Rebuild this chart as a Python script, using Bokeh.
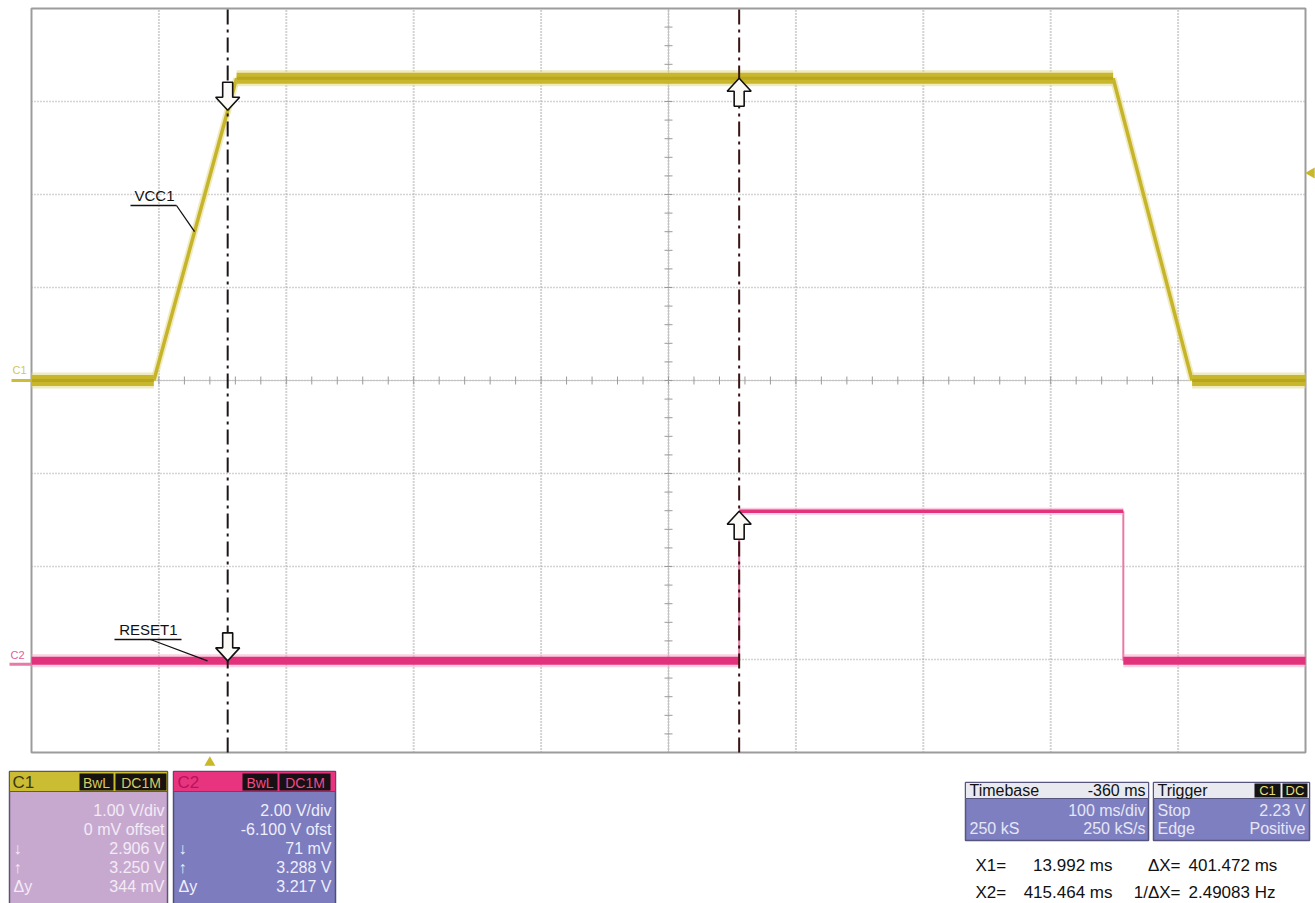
import math
import numpy as np
from bokeh.plotting import figure
from bokeh.models import Range1d
from bokeh.layouts import column
from bokeh.embed import file_html
from bokeh.resources import INLINE
from bokeh.core.properties import value

# ---------------- values ----------------
vcc1_t = [-140.0, -44.0, 21.0, 709.0, 771.0, 860.0]          # ms
vcc1_v = [0.0, 0.0, 3.25, 3.25, 0.0, 0.0]                     # V (C1)
reset1_t = [-140.0, 415.464, 415.464, 717.0, 717.0, 860.0]    # ms
reset1_v = [0.071, 0.071, 3.288, 3.288, 0.071, 0.071]         # V (C2)
cursor_t = [13.992, 415.464]
c1_cursor_v = [2.906, 3.250]
c2_cursor_v = [0.071, 3.288]
trigger_t = [0.0]
trigger_level = [2.23]
c1_setup = [1.00, 0.0]        # V/div, offset
c2_setup = [2.00, -6.100]
timebase = [-360.0, 100.0]    # delay ms, ms/div
sample_info = ["250 kS", "250 kS/s"]
trigger_info = ["Stop", "Edge", "Positive"]

FONT = value("Liberation Sans")

# ---------------- geometry (page pixels) ----------------
M = 0
FIG_W = 1315
TOP_H = 766
BOT_H = 137
SC_L, SC_R, SC_T, SC_B = 31.0, 1305.0, 8.0, 752.0
N_XDIV, N_YDIV = 10, 8

t_center = -timebase[0]
t_left = t_center - N_XDIV / 2 * timebase[1]
t_right = t_center + N_XDIV / 2 * timebase[1]
MS_PX = (t_right - t_left) / (SC_R - SC_L)


def vrange(setup):
    vdiv, ofst = setup
    return (-N_YDIV / 2 * vdiv - ofst, N_YDIV / 2 * vdiv - ofst)


c1_lo, c1_hi = vrange(c1_setup)
c2_lo, c2_hi = vrange(c2_setup)
V1_PX = (c1_hi - c1_lo) / (SC_B - SC_T)
V2_PX = (c2_hi - c2_lo) / (SC_B - SC_T)


def T(px):
    return t_left + (px - SC_L) * MS_PX


def V1(py):
    return c1_hi - (py - SC_T) * V1_PX


def V2(py):
    return c2_hi - (py - SC_T) * V2_PX


p = figure(width=FIG_W, height=TOP_H,
           x_range=Range1d(T(M), T(M + FIG_W)),
           y_range=Range1d(V1(M + TOP_H), V1(M)),
           x_axis_type=None, y_axis_type=None,
           toolbar_location=None, output_backend="svg", min_border=0)
p.extra_y_ranges = {"c2": Range1d(V2(M + TOP_H), V2(M))}
p.title.visible = False
p.outline_line_color = None
p.background_fill_color = "white"
p.border_fill_color = "white"

# ---------------- graticule ----------------
gx = [t_left + k * timebase[1] for k in range(1, N_XDIV)]
p.segment(gx, [c1_lo] * len(gx), gx, [c1_hi] * len(gx),
          line_color="#a8a8a8", line_width=2, line_dash="1 2")
gy = [c1_lo + k * c1_setup[0] for k in range(1, N_YDIV)]
p.segment([t_left] * len(gy), gy, [t_right] * len(gy), gy,
          line_color="#a8a8a8", line_width=1.5, line_dash="1 2")
yc = (c1_lo + c1_hi) / 2
p.segment([t_left], [yc], [t_right], [yc], line_color="#c4c4c4", line_width=1)
p.segment([t_center], [c1_lo], [t_center], [c1_hi], line_color="#c4c4c4", line_width=1)
tk = [t_left + k * timebase[1] / 5 for k in range(1, N_XDIV * 5)]
hv = 4 * V1_PX
p.segment(tk, [yc - hv] * len(tk), tk, [yc + hv] * len(tk), line_color="#9a9a9a", line_width=1)
vk = [c1_lo + k * c1_setup[0] / 5 for k in range(1, N_YDIV * 5)]
ht = 4 * MS_PX
p.segment([t_center - ht] * len(vk), vk, [t_center + ht] * len(vk), vk,
          line_color="#9a9a9a", line_width=1)
p.quad(left=[t_left], right=[t_right], bottom=[c1_lo], top=[c1_hi],
       fill_color=None, line_color="#9c9c9c", line_width=2)


# ---------------- traces ----------------
def split(t, v):
    flats, edges = [], []
    for i in range(len(t) - 1):
        seg = ([t[i], t[i + 1]], [v[i], v[i + 1]])
        (flats if v[i] == v[i + 1] else edges).append(seg)
    return flats, edges


fl, ed = split(vcc1_t, vcc1_v)
p.multi_line([s[0] for s in ed], [s[1] for s in ed], line_color="#e6de94", line_width=7, line_alpha=0.6)
p.multi_line([s[0] for s in ed], [s[1] for s in ed], line_color="#c6b42a", line_width=3.5)
p.multi_line([s[0] for s in fl], [s[1] for s in fl], line_color="#e4da8a", line_width=16,
             line_alpha=0.55, line_cap="butt")
p.multi_line([s[0] for s in fl], [s[1] for s in fl], line_color="#c8b72c", line_width=11, line_cap="butt")
p.multi_line([s[0] for s in fl], [s[1] for s in fl], line_color="#b8a61c", line_width=3, line_cap="butt")

fl2, ed2 = split(reset1_t, reset1_v)
mid2 = (min(reset1_v) + max(reset1_v)) / 2
low2 = [s for s in fl2 if s[1][0] < mid2]
high2 = [s for s in fl2 if s[1][0] >= mid2]
p.multi_line([s[0] for s in ed2], [s[1] for s in ed2], y_range_name="c2",
             line_color="#e77aa8", line_width=2)
p.multi_line([s[0] for s in low2], [s[1] for s in low2], y_range_name="c2",
             line_color="#f2a6c6", line_width=13, line_alpha=0.5, line_cap="butt")
p.multi_line([s[0] for s in low2], [s[1] for s in low2], y_range_name="c2",
             line_color="#e3327c", line_width=8, line_cap="butt")
p.multi_line([s[0] for s in high2], [s[1] for s in high2], y_range_name="c2",
             line_color="#f4b0cc", line_width=7, line_alpha=0.6, line_cap="butt")
p.multi_line([s[0] for s in high2], [s[1] for s in high2], y_range_name="c2",
             line_color="#e2347c", line_width=3.5, line_cap="butt")

# ---------------- cursors ----------------
p.segment(cursor_t, [c1_lo] * 2, cursor_t, [c1_hi] * 2,
          line_color=["#1c1616", "#3c1212"], line_width=2, line_dash="15 5 3 5")

ARROW = [(0, 0), (-12, 13), (-5, 13), (-5, 28), (5, 28), (5, 13), (12, 13)]


def arrow(x, y, down, ypx):
    sgn = 1 if down else -1
    return ([x + dx * MS_PX for dx, dy in ARROW], [y + sgn * dy * ypx for dx, dy in ARROW])


a1 = [arrow(cursor_t[0], c1_cursor_v[0], True, V1_PX), arrow(cursor_t[1], c1_cursor_v[1], False, V1_PX)]
a2 = [arrow(cursor_t[0], c2_cursor_v[0], True, V2_PX), arrow(cursor_t[1], c2_cursor_v[1], False, V2_PX)]
p.patches([a[0] for a in a1], [a[1] for a in a1], fill_color="#fbfaf6", line_color="#111111", line_width=1.6)
p.patches([a[0] for a in a2], [a[1] for a in a2], y_range_name="c2",
          fill_color="#fbfaf6", line_color="#111111", line_width=1.6)

# ---------------- trace labels ----------------
tip_v = 1.6
tip_t = float(np.interp(tip_v, [vcc1_v[1], vcc1_v[2]], [vcc1_t[1], vcc1_t[2]]))
p.text(x=[T(174)], y=[V1(203)], text=["VCC1"], text_font=FONT, text_font_size="15px",
       text_align="right", text_baseline="bottom", text_color="#111111")
p.segment([T(130)], [V1(205)], [T(176)], [V1(205)], line_color="#111111", line_width=1.3)
p.segment([T(176)], [V1(205)], [tip_t], [tip_v], line_color="#111111", line_width=1.3)

p.text(x=[T(177)], y=[V2(637)], text=["RESET1"], text_font=FONT, text_font_size="15px",
       text_align="right", text_baseline="bottom", text_color="#111111", y_range_name="c2")
p.segment([T(114)], [V2(639)], [T(181)], [V2(639)], y_range_name="c2", line_color="#111111", line_width=1.3)
p.segment([T(150)], [V2(639)], [T(207)], [reset1_v[0]], y_range_name="c2",
          line_color="#111111", line_width=1.3)

# ---------------- channel / trigger markers ----------------
p.text(x=[T(12)], y=[V1(369)], text=["C1"], text_font=FONT, text_font_size="11px",
       text_align="left", text_baseline="middle", text_color="#d2c65c")
p.segment([T(11)], [vcc1_v[0]], [T(31)], [vcc1_v[0]], line_color="#cbbd3a", line_width=3)
p.text(x=[T(10)], y=[V2(654)], text=["C2"], text_font=FONT, text_font_size="11px",
       text_align="left", text_baseline="middle", text_color="#e0609a", y_range_name="c2")
p.segment([T(9)], [0.0], [T(31)], [0.0], y_range_name="c2", line_color="#e67aa8", line_width=3)
p.scatter(x=trigger_t, y=[V1(762)], marker="triangle", size=11, fill_color="#c8b82a", line_color=None)
p.scatter(x=[T(1311)], y=trigger_level, marker="triangle", angle=math.pi / 2, size=11,
          fill_color="#c8b82a", line_color=None)

# ---------------- info panels ----------------
q = figure(width=FIG_W, height=BOT_H, x_range=Range1d(M, M + FIG_W), y_range=Range1d(M + TOP_H + BOT_H, M + TOP_H),
           x_axis_type=None, y_axis_type=None, toolbar_location=None, output_backend="svg", min_border=0)
q.title.visible = False
q.outline_line_color = None
q.background_fill_color = "white"
q.border_fill_color = "white"


def box(l, r, t, b, fill, line=None, lw=1.0):
    q.quad(left=[l], right=[r], top=[t], bottom=[b], fill_color=fill, line_color=line, line_width=lw)


def txt(x, y, s, color, size="16px", align="left"):
    q.text(x=[x], y=[y], text=[s], text_color=color, text_font=FONT, text_font_size=size,
           text_align=align, text_baseline="middle")


rows = [810, 829, 848, 867, 886]

# C1 panel
box(9, 167, 771, 910, "#c7a9d0", "#5e5470", 1.5)
box(9, 167, 771, 791, "#cbbd33", "#5e5470", 1.0)
box(79, 113, 773, 790, "#171310")
box(115, 166, 773, 790, "#171310")
txt(12, 782, "C1", "#3a3812", "17px")
txt(96, 782, "BwL", "#d8cc60", "14px", "center")
txt(140.5, 782, "DC1M", "#d8cc60", "14px", "center")
dy1 = c1_cursor_v[1] - c1_cursor_v[0]
c1_rows = [f"{c1_setup[0]:.2f} V/div", f"{c1_setup[1] * 1000:.0f} mV offset",
           f"{c1_cursor_v[0]:.3f} V", f"{c1_cursor_v[1]:.3f} V", f"{dy1 * 1000:.0f} mV"]
sym = ["", "", "↓", "↑", "Δy"]
for y, s, m in zip(rows, c1_rows, sym):
    txt(164, y, s, "#f3ebf6", "16px", "right")
    if m:
        txt(13, y, m, "#f3ebf6", "16px")

# C2 panel
box(173, 335, 771, 910, "#7c7cbe", "#4e4e78", 1.5)
box(173, 335, 771, 791, "#e8347e", "#4e4e78", 1.0)
box(242, 277, 773, 790, "#171014")
box(279, 330, 773, 790, "#171014")
txt(177, 782, "C2", "#b8125a", "17px")
txt(259.5, 782, "BwL", "#f04a8c", "14px", "center")
txt(304.5, 782, "DC1M", "#f04a8c", "14px", "center")
dy2 = c2_cursor_v[1] - c2_cursor_v[0]
c2_rows = [f"{c2_setup[0]:.2f} V/div", f"{c2_setup[1]:.3f} V ofst",
           f"{c2_cursor_v[0] * 1000:.0f} mV", f"{c2_cursor_v[1]:.3f} V", f"{dy2:.3f} V"]
for y, s, m in zip(rows, c2_rows, sym):
    txt(331, y, s, "#eeeefc", "16px", "right")
    if m:
        txt(178, y, m, "#eeeefc", "16px")

# Timebase panel
box(965, 1148, 782, 840, "#7d7fc0", "#55557e", 1.5)
box(965, 1148, 782, 798, "#e9e9f0", "#55557e", 1.0)
txt(969, 790, "Timebase", "#111111", "16px")
txt(1145, 790, f"{timebase[0]:.0f} ms", "#111111", "16px", "right")
txt(1145, 810, f"{timebase[1]:.0f} ms/div", "#e6e6f6", "16px", "right")
txt(969, 828, sample_info[0], "#e6e6f6", "16px")
txt(1145, 828, sample_info[1], "#e6e6f6", "16px", "right")

# Trigger panel
box(1153, 1309, 782, 840, "#7d7fc0", "#55557e", 1.5)
box(1153, 1309, 782, 798, "#e9e9f0", "#55557e", 1.0)
box(1254, 1280, 783, 797, "#141414")
box(1282, 1307, 783, 797, "#141414")
txt(1157, 790, "Trigger", "#111111", "16px")
txt(1267, 790, "C1", "#e8dc7a", "13px", "center")
txt(1294.5, 790, "DC", "#e8dc7a", "13px", "center")
txt(1157, 810, trigger_info[0], "#e6e6f6", "16px")
txt(1305, 810, f"{trigger_level[0]:.2f} V", "#e6e6f6", "16px", "right")
txt(1157, 828, trigger_info[1], "#e6e6f6", "16px")
txt(1305, 828, trigger_info[2], "#e6e6f6", "16px", "right")

# cursor readout
dx = cursor_t[1] - cursor_t[0]
txt(975, 865, "X1=", "#111111", "17px")
txt(1112, 865, f"{cursor_t[0]:.3f} ms", "#111111", "17px", "right")
txt(1180, 865, "ΔX=", "#111111", "17px", "right")
txt(1188, 865, f"{dx:.3f} ms", "#111111", "17px")
txt(975, 892, "X2=", "#111111", "17px")
txt(1112, 892, f"{cursor_t[1]:.3f} ms", "#111111", "17px", "right")
txt(1180, 892, "1/ΔX=", "#111111", "17px", "right")
txt(1188, 892, f"{1000.0 / dx:.5f} Hz", "#111111", "17px")

layout = column(p, q, spacing=0)
open("out.html", "w").write(file_html(layout, INLINE))
